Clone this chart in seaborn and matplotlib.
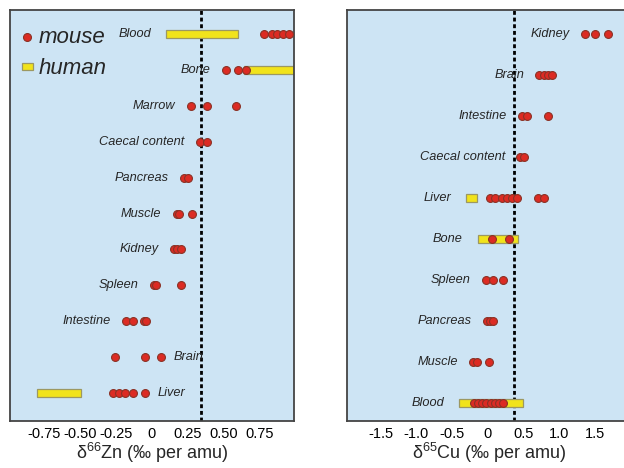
import numpy as np
import pandas as pd
import matplotlib
matplotlib.use("Agg")
import matplotlib.pyplot as plt
from matplotlib.lines import Line2D
from matplotlib.patches import Patch
import seaborn as sns

# --- data: Zn panel (rows from top to bottom) ---
zn_tissues = ["Blood", "Bone", "Marrow", "Caecal content", "Pancreas", "Muscle",
              "Kidney", "Spleen", "Intestine", "Brain", "Liver"]
zn_mouse = [
    [0.78, 0.83, 0.87, 0.91, 0.95],
    [0.51, 0.60, 0.65],
    [0.27, 0.38, 0.58],
    [0.33, 0.38],
    [0.22, 0.25],
    [0.17, 0.19, 0.28],
    [0.15, 0.17, 0.20],
    [0.015, 0.03, 0.20],
    [-0.18, -0.13, -0.055, -0.04],
    [-0.26, -0.05, 0.06],
    [-0.27, -0.23, -0.19, -0.13, -0.05],
]
zn_human_tissues = ["Blood", "Bone", "Liver"]
zn_human_low = [0.10, 0.64, -0.80]
zn_human_high = [0.60, 1.05, -0.49]
zn_label_right = ["Brain", "Liver"]
zn_ref = 0.34
zn_ticks = [-0.75, -0.5, -0.25, 0, 0.25, 0.5, 0.75]
zn_ticklabels = ["-0.75", "-0.50", "-0.25", "0", "0.25", "0.50", "0.75"]

# --- data: Cu panel ---
cu_tissues = ["Kidney", "Brain", "Intestine", "Caecal content", "Liver", "Bone",
              "Spleen", "Pancreas", "Muscle", "Blood"]
cu_mouse = [
    [1.36, 1.50, 1.68],
    [0.72, 0.78, 0.84, 0.90],
    [0.48, 0.55, 0.84],
    [0.45, 0.50],
    [0.03, 0.10, 0.19, 0.27, 0.335, 0.41, 0.70, 0.78],
    [0.055, 0.29],
    [-0.03, 0.07, 0.21],
    [-0.015, 0.03, 0.07],
    [-0.21, -0.15, 0.02],
    [-0.20, -0.14, -0.08, -0.02, 0.04, 0.10, 0.16, 0.21],
]
cu_human_tissues = ["Liver", "Bone", "Blood"]
cu_human_low = [-0.30, -0.145, -0.40]
cu_human_high = [-0.15, 0.42, 0.49]
cu_label_right = []
cu_ref = 0.37
cu_ticks = [-1.5, -1.0, -0.5, 0, 0.5, 1.0, 1.5]
cu_ticklabels = ["-1.5", "-1.0", "-0.5", "0", "0.5", "1.0", "1.5"]

BG = "#cde4f4"
RED = "#dc2b23"
RED_EDGE = "#8a3226"
YELLOW = "#f1e31b"
YELLOW_EDGE = "#9c9862"

sns.set_style("white")
plt.rcParams["font.family"] = ["Liberation Sans", "DejaVu Sans"]
plt.rcParams["mathtext.default"] = "regular"
plt.rcParams["axes.unicode_minus"] = False


def panel(ax, tissues, mouse, h_tis, h_low, h_high, label_right, ref,
          ticks, ticklabels, xlim, ylim, bar_h, xlabel):
    rows = []
    for i, (t, vals) in enumerate(zip(tissues, mouse)):
        for v in vals:
            rows.append({"tissue": t, "row": i, "value": v})
    df = pd.DataFrame(rows)

    ax.set_facecolor(BG)
    ax.axvline(ref, color="black", lw=2, ls=(0, (1.4, 1.0)), zorder=1)

    hrow = [tissues.index(t) for t in h_tis]
    ax.barh(hrow, np.array(h_high) - np.array(h_low), left=h_low, height=bar_h,
            color=YELLOW, edgecolor=YELLOW_EDGE, linewidth=0.9, zorder=2)

    sns.scatterplot(data=df, x="value", y="row", ax=ax, color=RED, s=32,
                    edgecolor=RED_EDGE, linewidth=0.8, zorder=3, legend=False)

    for i, (t, vals) in enumerate(zip(tissues, mouse)):
        if t in label_right:
            ax.annotate(t, (max(vals), i), xytext=(9, 0), textcoords="offset points",
                        ha="left", va="center", fontsize=9.2, style="italic")
        else:
            left = min(vals)
            if t in h_tis:
                left = min(left, h_low[h_tis.index(t)])
            ax.annotate(t, (left, i), xytext=(-11, 0), textcoords="offset points",
                        ha="right", va="center", fontsize=9.2, style="italic")

    ax.set_xlim(*xlim)
    ax.set_ylim(*ylim)
    ax.set_xticks(ticks)
    ax.set_xticklabels(ticklabels, fontsize=10.5)
    ax.set_yticks([])
    ax.tick_params(axis="x", direction="in", length=3, width=1, pad=4, colors="#333333")
    for lab in ax.get_xticklabels():
        lab.set_color("black")
    ax.set_xlabel(xlabel, fontsize=13, labelpad=0)
    ax.set_ylabel("")
    for s in ax.spines.values():
        s.set_color("#444444")
        s.set_linewidth(1.3)


fig = plt.figure(figsize=(6.24, 4.68), dpi=100)
ax1 = fig.add_axes([10 / 624, 47 / 468, 284 / 624, 411 / 468])
ax2 = fig.add_axes([347 / 624, 47 / 468, 284 / 624, 411 / 468])

panel(ax1, zn_tissues, zn_mouse, zn_human_tissues, zn_human_low, zn_human_high,
      zn_label_right, zn_ref, zn_ticks, zn_ticklabels, (-0.985, 0.985),
      (10.78, -0.67), 0.22, r"δ$^{66}$Zn (‰ per amu)")
panel(ax2, cu_tissues, cu_mouse, cu_human_tissues, cu_human_low, cu_human_high,
      cu_label_right, cu_ref, cu_ticks, cu_ticklabels, (-1.97, 2.0),
      (9.44, -0.585), 0.195, r"δ$^{65}$Cu (‰ per amu)")

handles = [
    Line2D([], [], marker="o", ls="none", markersize=5.7, markerfacecolor=RED,
           markeredgecolor=RED_EDGE, markeredgewidth=0.8),
    Patch(facecolor=YELLOW, edgecolor=YELLOW_EDGE, linewidth=0.9),
]
ax1.legend(handles, ["mouse", "human"], loc="upper left",
           bbox_to_anchor=(0.042, 0.958), frameon=False,
           prop={"size": 16, "style": "italic"}, handlelength=0.5,
           handleheight=0.12, handletextpad=0.25, labelspacing=0.45,
           borderaxespad=0, borderpad=0)

fig.savefig("out.png", dpi=100)
